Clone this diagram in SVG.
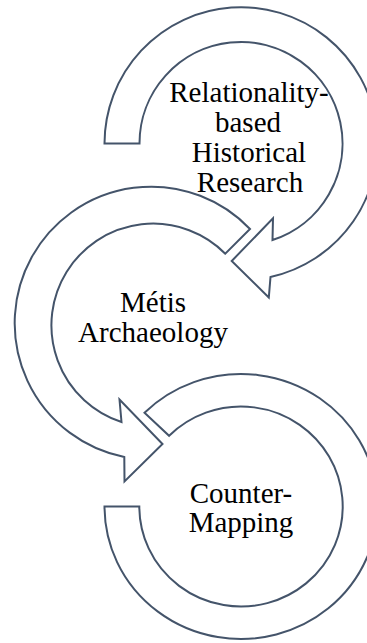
<svg xmlns="http://www.w3.org/2000/svg" width="367" height="643" viewBox="0 0 367 643">
<style>
.arrow{fill:#ffffff;stroke:#44546A;stroke-width:2;stroke-linejoin:miter}
.lbl{font-family:"Liberation Serif","Times New Roman",serif;font-size:29px;fill:#000000;text-anchor:middle}
</style>
<rect width="367" height="643" fill="#ffffff"/>
<g id="connectors"></g>
<g id="node-relationality">
<path class="arrow" d="M104.5,143.5 A136.5,136.5 0 1 1 270.5,277 L268.8,297.5 L231.7,261 L273,218.3 L272.5,240 A101.5,101.5 0 1 0 139.5,143.5 Z"/>
<text class="lbl" x="249" y="101.5">Relationality-</text>
<text class="lbl" x="248" y="131.5">based</text>
<text class="lbl" x="249" y="162">Historical</text>
<text class="lbl" x="250" y="191.5">Research</text>
</g>
<g id="node-metis">
<path class="arrow" d="M250,229 A136.5,136.5 0 1 0 124.3,457 L124.5,481.5 L162.5,444 L119.5,399.5 L121.5,422 A101.7,101.7 0 1 1 225.3,253.7 Z"/>
<text class="lbl" x="153" y="311.5">Métis</text>
<text class="lbl" x="153" y="341.5">Archaeology</text>
</g>
<g id="node-counter-mapping">
<path class="arrow" d="M144.5,412.8 A136.5,132.5 0 1 1 104.5,506.5 L139.3,506.5 A101.7,100 0 1 0 169.1,435.8 Z"/>
<text class="lbl" x="241" y="503">Counter-</text>
<text class="lbl" x="241" y="532">Mapping</text>
</g>
</svg>
